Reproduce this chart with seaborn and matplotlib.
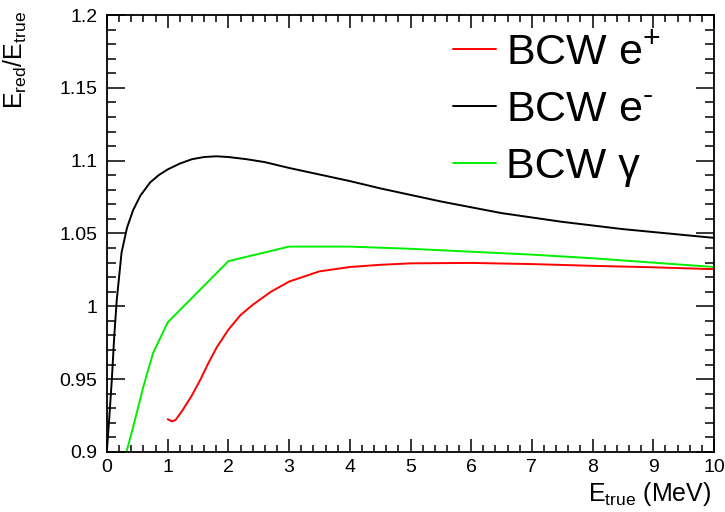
import numpy as np
import pandas as pd
import matplotlib
matplotlib.use("Agg")
import matplotlib.pyplot as plt
import seaborn as sns
from matplotlib.ticker import MultipleLocator

# ---- data ----
e_plus_x = [1.0, 1.07, 1.13, 1.25, 1.4, 1.53, 1.67, 1.81, 2.0, 2.2, 2.4, 2.7, 3.0, 3.5, 4.0, 4.5, 5.0, 6.0, 7.0, 8.0, 9.0, 10.0]
e_plus_y = [0.9225, 0.921, 0.922, 0.929, 0.939, 0.949, 0.961, 0.972, 0.984, 0.994, 1.001, 1.010, 1.017, 1.024, 1.027, 1.0285, 1.0295, 1.0298, 1.029, 1.0278, 1.0268, 1.0255]

e_minus_x = [0.0, 0.04, 0.08, 0.12, 0.16, 0.24, 0.33, 0.43, 0.55, 0.71, 0.85, 1.0, 1.2, 1.4, 1.6, 1.8, 2.0, 2.3, 2.6, 3.0, 3.5, 4.0, 4.5, 5.0, 5.5, 6.0, 6.5, 7.0, 7.5, 8.0, 8.5, 9.0, 9.5, 10.0]
e_minus_y = [0.902, 0.925, 0.950, 0.980, 1.004, 1.037, 1.054, 1.066, 1.076, 1.085, 1.090, 1.094, 1.098, 1.101, 1.1025, 1.103, 1.1025, 1.101, 1.099, 1.095, 1.0905, 1.086, 1.081, 1.0765, 1.072, 1.068, 1.064, 1.061, 1.058, 1.0555, 1.053, 1.051, 1.049, 1.047]

gamma_x = [0.32, 0.43, 0.6, 0.76, 1.0, 2.0, 3.0, 4.0, 5.0, 6.0, 7.0, 8.0, 9.0, 10.0]
gamma_y = [0.900, 0.917, 0.945, 0.968, 0.989, 1.031, 1.041, 1.041, 1.0395, 1.0375, 1.0355, 1.033, 1.030, 1.027]

labels = ["BCW $\\mathregular{e^{+}}$", "BCW $\\mathregular{e^{\\text{-}}}$", "BCW γ"]
colors = ["#ff0000", "#000000", "#00ee00"]

x_ticks = list(range(0, 11))
y_ticks = [0.9, 0.95, 1.0, 1.05, 1.1, 1.15, 1.2]
y_tick_labels = ["0.9", "0.95", "1", "1.05", "1.1", "1.15", "1.2"]

df = pd.concat([
    pd.DataFrame({"x": e_plus_x, "y": e_plus_y, "s": labels[0]}),
    pd.DataFrame({"x": e_minus_x, "y": e_minus_y, "s": labels[1]}),
    pd.DataFrame({"x": gamma_x, "y": gamma_y, "s": labels[2]}),
], ignore_index=True)

sns.set_theme(style="white")
plt.rcParams["font.family"] = ["Liberation Sans", "DejaVu Sans"]
plt.rcParams["mathtext.fontset"] = "custom"
plt.rcParams["mathtext.rm"] = "Liberation Sans"
plt.rcParams["text.color"] = "black"

fig = plt.figure(figsize=(7.25, 5.12), dpi=100)
ax = fig.add_axes([107/725, 1 - 452/512, (714 - 107)/725, (452 - 15)/512])

sns.lineplot(data=df, x="x", y="y", hue="s", palette=dict(zip(labels, colors)),
             estimator=None, sort=True, linewidth=1.4, ax=ax, legend=False)

ax.set_xlim(0, 10)
ax.set_ylim(0.9, 1.2)
ax.set_xticks(x_ticks)
ax.set_xticklabels([str(v) for v in x_ticks])
ax.set_yticks(y_ticks)
ax.set_yticklabels(y_tick_labels)
ax.xaxis.set_minor_locator(MultipleLocator(0.2))
ax.yaxis.set_minor_locator(MultipleLocator(0.01))

ax.tick_params(axis="x", which="both", direction="in", top=True, bottom=True,
               labelsize=14, pad=5, width=1.1, color="black", labelcolor="black")
ax.tick_params(axis="x", which="major", length=9.5)
ax.tick_params(axis="x", which="minor", length=4.7)
ax.tick_params(axis="y", which="both", direction="in", left=True, right=True,
               labelsize=14, pad=7, width=1.1, color="black", labelcolor="black")
ax.tick_params(axis="y", which="major", length=13)
ax.tick_params(axis="y", which="minor", length=6.5)

for sp in ax.spines.values():
    sp.set_color("black")
    sp.set_linewidth(1.3)

ax.set_xlabel("$\\mathregular{E_{true}}$ (MeV)", fontsize=18, color="black", ha="right")
ax.xaxis.set_label_coords(0.995, -0.065)
ax.set_ylabel("$\\mathregular{E_{red}/E_{true}}$", fontsize=18, color="black", ha="right")
ax.yaxis.set_label_coords(-0.128, 1.01)

handles = [plt.Line2D([], [], color=c, linewidth=1.4) for c in colors]
leg = ax.legend(handles, labels, loc="upper left", bbox_to_anchor=(0.57, 0.958),
                frameon=False, fontsize=31, handlelength=1.0, handletextpad=0.22,
                labelspacing=0.39, borderaxespad=0, borderpad=0)
for t in leg.get_texts():
    t.set_color("black")

fig.savefig("out.png", dpi=100, facecolor="white")
